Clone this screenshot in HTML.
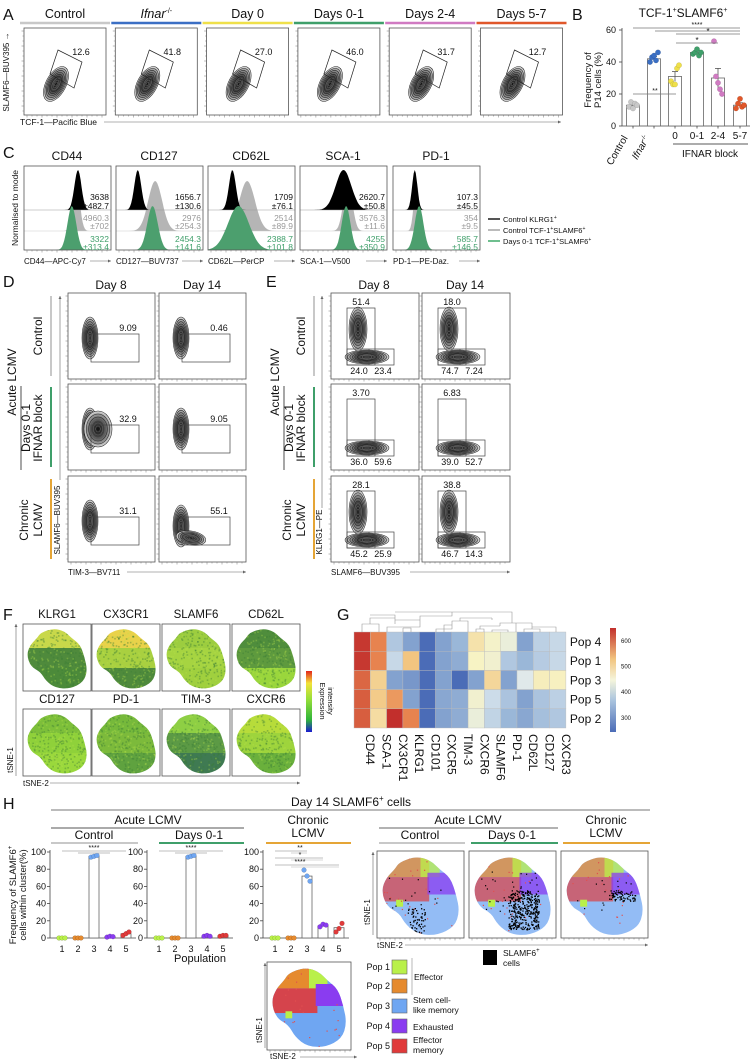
<!DOCTYPE html>
<html><head><meta charset="utf-8"><title>Figure</title>
<style>html,body{margin:0;padding:0;background:#fff}svg{display:block}text{font-family:"Liberation Sans",sans-serif;fill:#111}</style>
</head><body>
<svg id="fig" xmlns="http://www.w3.org/2000/svg" width="751" height="1060" viewBox="0 0 751 1060">
<defs>
<linearGradient id="cbarF" x1="0" y1="1" x2="0" y2="0"><stop offset="0" stop-color="#1a1ad0"/><stop offset="0.2" stop-color="#2fb43a"/><stop offset="0.55" stop-color="#9be03a"/><stop offset="0.8" stop-color="#f3e23a"/><stop offset="1" stop-color="#e3261c"/></linearGradient>
<linearGradient id="cbarG" x1="0" y1="1" x2="0" y2="0"><stop offset="0" stop-color="#4b6cb7"/><stop offset="0.3" stop-color="#a9c3de"/><stop offset="0.5" stop-color="#f5f5dc"/><stop offset="0.7" stop-color="#f2c580"/><stop offset="1" stop-color="#c22f2c"/></linearGradient>
<radialGradient id="contourFill"><stop offset="0" stop-color="#111"/><stop offset="0.45" stop-color="#444"/><stop offset="0.8" stop-color="#999"/><stop offset="1" stop-color="#e0e0e0"/></radialGradient>
</defs>
</svg>
<script>
// ---------- data ----------
const aConditions = ['Control','Ifnar','Day 0','Days 0-1','Days 2-4','Days 5-7'];
const aGateValues = ['12.6','41.8','27.0','46.0','31.7','12.7'];
const bCategories = ['Control','Ifnar','0','0-1','2-4','5-7'];
const bMeans = [13, 42, 31, 46, 30, 13];
const bErr = [1.5, 1.5, 3, 1, 6, 1.5];
const bPoints = [[12,15,11,14,13],[40,43,44,41,46],[28,26,26,36,38],[45,46,48,44,46],[53,31,27,23,20],[11,14,17,12,13]];
const bTicks = [0,20,40,60];
const cMarkers = ['CD44','CD127','CD62L','SCA-1','PD-1'];
const cAxisLabels = ['CD44—APC-Cy7','CD127—BUV737','CD62L—PerCP','SCA-1—V500','PD-1—PE-Daz.'];
const cPeakBlack = [0.62,0.25,0.28,0.50,0.25];
const cPeakGray = [0.60,0.45,0.45,0.55,0.27];
const cPeakGreen = [0.55,0.42,0.35,0.53,0.30];
const cSdBlack = [0.04,0.04,0.04,0.09,0.03];
const cSdGray = [0.04,0.08,0.09,0.05,0.03];
const cSdGreen = [0.05,0.06,0.12,0.05,0.05];
const cMfiBlack = [['3638','±482.7'],['1656.7','±130.6'],['1709','±76.1'],['2620.7','±50.8'],['107.3','±45.5']];
const cMfiGray = [['4960.3','±702'],['2976','±254.3'],['2514','±89.9'],['3576.3','±11.6'],['354','±9.5']];
const cMfiGreen = [['3322','±313.4'],['2454.3','±141.6'],['2388.7','±101.8'],['4255','±350.9'],['585.7','±146.5']];
const dValues = [['9.09','0.46'],['32.9','9.05'],['31.1','55.1']];
const eTop = [['51.4','18.0'],['3.70','6.83'],['28.1','38.8']];
const eBottomL = [['24.0','74.7'],['36.0','39.0'],['45.2','46.7']];
const eBottomR = [['23.4','7.24'],['59.6','52.7'],['25.9','14.3']];
const fMarkers = ['KLRG1','CX3CR1','SLAMF6','CD62L','CD127','PD-1','TIM-3','CXCR6'];
const gRows = ['Pop 4','Pop 1','Pop 3','Pop 5','Pop 2'];
const gCols = ['CD44','SCA-1','CX3CR1','KLRG1','CD101','CXCR5','TIM-3','CXCR6','SLAMF6','PD-1','CD62L','CD127','CXCR3'];
const gValues = [
 [640,560,340,300,240,300,320,450,415,400,300,350,360],
 [640,560,360,500,240,300,310,420,410,340,320,345,360],
 [590,480,300,290,230,300,250,300,470,300,385,430,425],
 [600,490,540,300,240,305,310,410,365,335,300,335,350],
 [600,460,650,560,240,300,310,400,355,320,305,330,340]];
const gTicks = [600,500,400,300];
const hPops = ['1','2','3','4','5'];
const hMeansControl = [0,0,95,1.5,5];
const hMeansDays01 = [0,0,95,2,2.5];
const hMeansChronic = [0,0,72,14,12];
const hPtsControl = [[0,0,0],[0,0,0],[94,95,96],[1,2,1.5],[3,5,7]];
const hPtsDays01 = [[0,0,0],[0,0,0],[94,95,96],[2,3,2],[2,3,3]];
const hPtsChronic = [[0,0,0],[0,0,0],[79,72,66],[13,16,15],[7,11,17]];
const hTicks = [0,20,40,60,80,100];

// ---------- helpers ----------
const NS='http://www.w3.org/2000/svg';
const svg=document.getElementById('fig');
function mk(tag,attrs,name,parent){
 const e=document.createElementNS(NS,tag);
 for(const k in attrs) e.setAttribute(k,attrs[k]);
 
 
 (parent||svg).appendChild(e);
 return e;
}
function T(x,y,s,size,name,extra){
 const e=mk('text',Object.assign({x:x,y:y,'font-size':size,'text-anchor':'middle'},extra||{}),name);
 e.innerHTML=s; return e;
}
function L(x1,y1,x2,y2,stroke,w,name){return mk('line',{x1:x1,y1:y1,x2:x2,y2:y2,stroke:stroke,'stroke-width':w},name);}
function R(x,y,w,h,name,extra){return mk('rect',Object.assign({x:x,y:y,width:w,height:h,fill:'none',stroke:'#555','stroke-width':0.8},extra||{}),name);}
let seed=7; function rnd(){seed=(seed*16807)%2147483647;return seed/2147483647;}
function ticksBottom(x,y,w,name){let d='';for(let t=3;t<w;t+=5){d+=`M${x+t},${y}v${(t%15<5)?2.5:1.5}`;}mk('path',{d:d,stroke:'#777','stroke-width':0.5},name);}
function ticksLeft(x,y,h,name){let d='';for(let t=3;t<h;t+=5){d+=`M${x},${y+t}h${(t%15<5)?-2.5:-1.5}`;}mk('path',{d:d,stroke:'#777','stroke-width':0.5},name);}
function contour(cx,cy,rx,ry,rot,n,name){
 const g=mk('g',{transform:`rotate(${rot} ${cx} ${cy})`},name);
 mk('ellipse',{cx:cx,cy:cy,rx:rx,ry:ry,fill:'url(#contourFill)',stroke:'none'},name+'-fill',g);
 for(let k=n;k>=1;k--){mk('ellipse',{cx:cx,cy:cy,rx:rx*k/n,ry:ry*k/n,fill:'none',stroke:k<4?'#666':'#222','stroke-width':0.55},name+'-level',g);}
 return g;
}
function arrowX(x1,x2,y,name){L(x1,y,x2,y,'#666',0.6,name);mk('path',{d:`M${x2},${y}l-3,-1.5v3z`,fill:'#666'},name+'-head');}
function arrowY(x,y1,y2,name){L(x,y1,x,y2,'#666',0.6,name);mk('path',{d:`M${x},${y2}l-1.5,3h3z`,fill:'#666'},name+'-head');}

// ---------- Panel A ----------
const aColors=['#c8c8c8','#3b6fc4','#efe04a','#3f9f6a','#d07ac2','#e0572a'];
T(3,20,'A',16,'panel-a-label',{'text-anchor':'start'});
aConditions.forEach((c,i)=>{
 const x0=24+i*91.3;
 L(x0-4,23,x0+86,23,aColors[i],2.5,'condition-color-bar');
 T(x0+41,18,i===1?'<tspan font-style="italic">Ifnar</tspan><tspan font-size="7" dy="-5">-/-</tspan>':c,12.5,'condition-header');
 R(x0,28,82,87,'flow-plot-box');
 contour(x0+32,28+56,19,10,-62,9,'contour-blob');
 mk('polygon',{points:`${x0+34},${50} ${x0+58},${62} ${x0+50},${88} ${x0+26},${74}`,fill:'none',stroke:'#222','stroke-width':0.7},'gate-polygon');
 T(x0+57,55,aGateValues[i],9,'gate-value');
 ticksBottom(x0,115,82,'x-ticks');ticksLeft(x0,28,87,'y-ticks');
});
T(9,72,'SLAMF6—BUV395 →',8,'a-y-axis-title',{transform:'rotate(-90 9 72)'});
T(20,125,'TCF-1—Pacific Blue',8.5,'a-x-axis-title',{'text-anchor':'start'});
arrowX(104,561,122,'a-x-arrow');

// ---------- Panel B ----------
T(572,20,'B',16,'panel-b-label',{'text-anchor':'start'});
T(683,17,'TCF-1<tspan font-size="7" dy="-5">+</tspan><tspan dy="5">SLAMF6</tspan><tspan font-size="7" dy="-5">+</tspan>',12,'b-title');
const yB=v=>126-v*(96/60);
const bX=[633,654,675,697,718,740];
L(622,28,622,126,'#444',0.8,'b-y-axis');L(622,126,750,126,'#444',0.8,'b-x-axis');
bTicks.forEach(v=>{L(619,yB(v),622,yB(v),'#444',0.8,'b-y-tick');T(616,yB(v)+3,String(v),9,'b-y-tick-label',{'text-anchor':'end'});});
bCategories.forEach((c,i)=>{
 const x=bX[i];
 mk('rect',{x:x-6.5,y:yB(bMeans[i]),width:13,height:126-yB(bMeans[i]),fill:'#fff',stroke:'#666','stroke-width':0.8},'bar-'+c);
 L(x,yB(bMeans[i]-bErr[i]),x,yB(bMeans[i]+bErr[i]),'#555',0.8,'error-bar');
 L(x-3,yB(bMeans[i]+bErr[i]),x+3,yB(bMeans[i]+bErr[i]),'#555',0.8,'error-cap');
 bPoints[i].forEach((p,j)=>{mk('circle',{cx:x-4+j*2,cy:yB(p),r:2.7,fill:aColors[i],stroke:'#0003','stroke-width':0.4},'data-point');});
 L(x,126,x,128.5,'#444',0.8,'b-x-tick');
});
T(628,138,'Control',10,'b-x-label',{'text-anchor':'end',transform:'rotate(-60 628 138)'});
T(650,138,'<tspan font-style="italic">Ifnar</tspan><tspan font-size="6" dy="-4">-/-</tspan>',10,'b-x-label',{'text-anchor':'end',transform:'rotate(-60 650 138)'});
['0','0-1','2-4','5-7'].forEach((s,i)=>T(bX[i+2],139,s,10,'b-x-label'));
L(673,144,748,144,'#222',0.8,'ifnar-block-line');T(710,157,'IFNAR block',10,'ifnar-block-label');
T(591,80,'Frequency of',9.5,'b-y-title',{transform:'rotate(-90 591 80)'});
T(601,80,'P14 cells (%)',9.5,'b-y-title',{transform:'rotate(-90 601 80)'});
[[633,740,28],[655,740,31],[676,740,34],[676,718,43]].forEach(s=>L(s[0],s[2],s[1],s[2],'#777',0.7,'significance-line'));
T(697,27,'****',7,'significance-stars');T(708,34,'*',8,'significance-stars');T(697,43,'*',8,'significance-stars');
L(633,94,676,94,'#777',0.7,'significance-line');T(655,93,'**',7,'significance-stars');

// ---------- Panel C ----------
T(3,158,'C',16,'panel-c-label',{'text-anchor':'start'});
const cX=[24,116,208,300,393];
function hist(x0,w,base,h,m,sd,fill,name){
 let d=`M${x0},${base}`;
 for(let k=0;k<=80;k++){const t=k/80;d+=`L${(x0+t*w).toFixed(1)},${(base-h*Math.exp(-0.5*((t-m)/sd)**2)).toFixed(1)}`;}
 d+=`L${x0+w},${base}Z`;mk('path',{d:d,fill:fill,stroke:'none'},name);
}
cMarkers.forEach((m,i)=>{
 const x0=cX[i],w=87;
 T(x0+43,160,m,12,'marker-title');
 hist(x0,w,231,50,cPeakGray[i],cSdGray[i],'#b5b5b5','histogram-control-tcf1');
 hist(x0,w,210,40,cPeakBlack[i],cSdBlack[i],'#000','histogram-control-klrg1');
 L(x0,210,x0+w,210,'#999',0.6,'row-divider');L(x0,231,x0+w,231,'#ccc',0.6,'row-divider');
 hist(x0,w,250,44,cPeakGreen[i],cSdGreen[i],'#4c9f6e','histogram-days01');
 R(x0,166,w,84,'histogram-box');
 T(x0+w-2,200,cMfiBlack[i][0],8.5,'mfi-value',{'text-anchor':'end'});T(x0+w-2,209,cMfiBlack[i][1],8.5,'mfi-sem',{'text-anchor':'end'});
 T(x0+w-2,221,cMfiGray[i][0],8.5,'mfi-value',{'text-anchor':'end',style:'fill:#999'});T(x0+w-2,229,cMfiGray[i][1],8.5,'mfi-sem',{'text-anchor':'end',style:'fill:#999'});
 T(x0+w-2,242,cMfiGreen[i][0],8.5,'mfi-value',{'text-anchor':'end',style:'fill:#3f9f6a'});T(x0+w-2,250,cMfiGreen[i][1],8.5,'mfi-sem',{'text-anchor':'end',style:'fill:#3f9f6a'});
 ticksBottom(x0,250,w,'x-ticks');
 T(x0,264,cAxisLabels[i],8,'c-x-axis-title',{'text-anchor':'start'});
 arrowX(x0+66,x0+w,261,'c-x-arrow');
});
T(18,208,'Normalised to mode',8.5,'c-y-axis-title',{transform:'rotate(-90 18 208)'});
[['#555','Control KLRG1<tspan font-size="5" dy="-3">+</tspan>',222],['#bbb','Control TCF-1<tspan font-size="5" dy="-3">+</tspan><tspan dy="3">SLAMF6</tspan><tspan font-size="5" dy="-3">+</tspan>',233],['#6fbf8f','Days 0-1 TCF-1<tspan font-size="5" dy="-3">+</tspan><tspan dy="3">SLAMF6</tspan><tspan font-size="5" dy="-3">+</tspan>',244]].forEach(l=>{
 L(488,l[2]-3,500,l[2]-3,l[0],2,'legend-swatch');T(503,l[2],l[1],7.5,'legend-entry',{'text-anchor':'start'});
});

// ---------- Panels D & E ----------
T(3,287,'D',16,'panel-d-label',{'text-anchor':'start'});
T(266,287,'E',16,'panel-e-label',{'text-anchor':'start'});
const rowTops=[293,384,476];
const dCols=[68,159], eCols=[331,422];
['Day 8','Day 14'].forEach((d,j)=>{T(dCols[j]+43,289,d,12,'day-header');T(eCols[j]+43,289,d,12,'day-header');});
const rowColors=['#c8c8c8','#3f9f6a','#e5a536'];
function rowLabels(ox){
 T(ox+42,336,'Control',12,'row-label',{transform:`rotate(-90 ${ox+42} 336)`});
 T(ox+30,428,'Days 0-1',12,'row-label',{transform:`rotate(-90 ${ox+30} 428)`});
 T(ox+42,428,'IFNAR block',12,'row-label',{transform:`rotate(-90 ${ox+42} 428)`});
 T(ox+16,382,'Acute LCMV',12,'row-label',{transform:`rotate(-90 ${ox+16} 382)`});
 L(ox+21,386,ox+21,470,'#222',0.8,'group-bracket');
 T(ox+28,520,'Chronic',12,'row-label',{transform:`rotate(-90 ${ox+28} 520)`});
 T(ox+42,520,'LCMV',12,'row-label',{transform:`rotate(-90 ${ox+42} 520)`});
 rowTops.forEach((t,r)=>L(ox+51,t+3,ox+51,t+83,rowColors[r],2,'row-color-bar'));
}
rowLabels(0);rowLabels(263);
rowTops.forEach((t,r)=>{
 [0,1].forEach(j=>{
  let x0=dCols[j];R(x0,t,87,86,'flow-plot-box');
  contour(x0+22,t+(r===2&&j===1?50:45),8,21,0,9,'contour-blob');
  if(r===2&&j===1) contour(x0+32,t+62,15,7,10,7,'contour-blob');
  if(r===1&&j===0) contour(x0+30,t+45,14,18,0,6,'contour-blob');
  mk('rect',{x:x0+23,y:t+41,width:48,height:28,fill:'none',stroke:'#444','stroke-width':0.7},'gate-tim3');
  T(x0+60,t+38,dValues[r][j],9,'gate-value');
  ticksBottom(x0,t+86,87,'x-ticks');ticksLeft(x0,t,86,'y-ticks');
  x0=eCols[j];R(x0,t,88,86,'flow-plot-box');
  contour(x0+36,t+64,22,7,0,9,'contour-blob');
  if(r!==1) contour(x0+27,t+36,9,22,0,8,'contour-blob');
  mk('rect',{x:x0+16,y:t+15,width:28,height:57,fill:'none',stroke:'#444','stroke-width':0.7},'gate-klrg1');
  mk('rect',{x:x0+16,y:t+56,width:47,height:16,fill:'none',stroke:'#444','stroke-width':0.7},'gate-slamf6');
  L(x0+38,t+56,x0+38,t+72,'#444',0.7,'gate-split');
  T(x0+30,t+12,eTop[r][j],9,'gate-value');
  T(x0+28,t+81,eBottomL[r][j],9,'gate-value');T(x0+52,t+81,eBottomR[r][j],9,'gate-value');
  ticksBottom(x0,t+86,88,'x-ticks');ticksLeft(x0,t,86,'y-ticks');
 });
});
T(68,575,'TIM-3—BV711',8,'d-x-axis-title',{'text-anchor':'start'});arrowX(127,246,572,'d-x-arrow');
T(331,575,'SLAMF6—BUV395',8,'e-x-axis-title',{'text-anchor':'start'});arrowX(410,510,572,'e-x-arrow');
T(60,520,'SLAMF6—BUV395',8,'d-y-axis-title',{transform:'rotate(-90 60 520)'});arrowY(60,480,296,'d-y-arrow');
T(322,532,'KLRG1—PE',8,'e-y-axis-title',{transform:'rotate(-90 322 532)'});arrowY(322,508,296,'e-y-arrow');

// ---------- tSNE blob ----------
const blobPts=[[.25,.12],[.45,.05],[.62,.1],[.72,.2],[.85,.3],[.92,.5],[.96,.7],[.9,.88],[.7,.98],[.48,.97],[.33,.86],[.25,.72],[.1,.64],[.04,.45],[.1,.3],[.2,.2]];
let clipN=0;
function blobClip(x,y,w,h){
 const id='clip'+(clipN++);
 const defs=svg.querySelector('defs');
 const cp=mk('clipPath',{id:id},'tsne-clip',defs);
 const P=blobPts.map(p=>[x+p[0]*w,y+p[1]*h]);
 const n=P.length;
 const mid=(a,b)=>[(a[0]+b[0])/2,(a[1]+b[1])/2];
 let m0=mid(P[n-1],P[0]);
 let d=`M${m0[0].toFixed(1)},${m0[1].toFixed(1)}`;
 for(let k=0;k<n;k++){const m=mid(P[k],P[(k+1)%n]);d+=`Q${P[k][0].toFixed(1)},${P[k][1].toFixed(1)} ${m[0].toFixed(1)},${m[1].toFixed(1)}`;}
 mk('path',{d:d+'Z'},'tsne-outline',cp);
 return mk('g',{'clip-path':`url(#${id})`},'tsne-map');
}
function speckle(g,x,y,w,h,color,n,rr){for(let k=0;k<n;k++){mk('rect',{x:(x+rnd()*w).toFixed(1),y:(y+rnd()*h).toFixed(1),width:rr,height:rr,fill:color},'tsne-speckle',g);}}

// ---------- Panel F ----------
T(3,620,'F',16,'panel-f-label',{'text-anchor':'start'});
const fTop=['#c9d84a','#e9d24a','#9ccd3f','#4f8d3c','#7dbf3a','#76b93b','#8ecf44','#b7dc3a'];
const fMid=['#4f8a3c','#a9d040','#a6d441','#5e9a3e','#8fd13a','#7cba3b','#5c9a45','#9ed43c'];
const fBot=['#4c8a3a','#4f8a3c','#a0d03e','#9ad63c','#9ad83c','#5fa23f','#3f7a52','#6ab03c'];
fMarkers.forEach((m,i)=>{
 const col=i%4,row=Math.floor(i/4);
 const x=[23,92,162,232][col], y=[624,709][row];
 T(x+34,y-6,m,11.5,'tsne-marker-title');
 R(x,y,68,67,'tsne-box');
 const g=blobClip(x+1,y+1,66,65);
 mk('rect',{x:x,y:y,width:68,height:24,fill:fTop[i]},'expression-region',g);
 mk('rect',{x:x,y:y+24,width:68,height:20,fill:fMid[i]},'expression-region',g);
 mk('rect',{x:x,y:y+44,width:68,height:23,fill:fBot[i]},'expression-region',g);
 speckle(g,x,y,68,67,'#3c7d3866',300,1.6);
 speckle(g,x,y,68,67,'#b8e04a55',200,1.6);
});
mk('rect',{x:306,y:671,width:6,height:61,fill:'url(#cbarF)'},'f-colorbar');
T(320,701,'Expression',7.5,'f-colorbar-title',{transform:'rotate(90 320 701)'});
T(328,701,'intensity',7.5,'f-colorbar-title',{transform:'rotate(90 328 701)'});
T(13,760,'tSNE-1',8,'f-y-axis-title',{transform:'rotate(-90 13 760)'});arrowY(16,776,624,'f-y-arrow');
T(23,786,'tSNE-2',8,'f-x-axis-title',{'text-anchor':'start'});arrowX(50,300,783,'f-x-arrow');

// ---------- Panel G ----------
T(337,620,'G',16,'panel-g-label',{'text-anchor':'start'});
const stops=[[250,[75,108,183]],[320,[154,183,216]],[380,[221,232,239]],[420,[247,243,196]],[500,[242,197,128]],[560,[231,131,79]],[650,[194,47,44]]];
function heat(v){for(let k=1;k<stops.length;k++){if(v<=stops[k][0]||k===stops.length-1){const a=stops[k-1],b=stops[k];const t=Math.max(0,Math.min(1,(v-a[0])/(b[0]-a[0])));return 'rgb('+a[1].map((c,j)=>Math.round(c+(b[1][j]-c)*t)).join(',')+')';}}}
const gx0=354,gw=16.3,gy0=632,gh=19.2;
gValues.forEach((row,r)=>row.forEach((v,c)=>{mk('rect',{x:gx0+c*gw,y:gy0+r*gh,width:gw,height:gh,fill:heat(v),stroke:'#bbb','stroke-width':0.4},'heatmap-cell');}));
gRows.forEach((p,r)=>T(gx0+13*gw+4,gy0+r*gh+14,p,12,'heatmap-row-label',{'text-anchor':'start'}));
gCols.forEach((c,k)=>{const cx=gx0+k*gw+gw/2+4;T(cx,734,c,12,'heatmap-col-label',{'text-anchor':'start',transform:`rotate(90 ${cx} 734)`});});
const dd='M362,632V624H379V632 M370,624V618H395V624 M395,618V615H370 M387,632V627H420V620H395 M403,632V628 M411,632V628H403 M420,620V616H452V612H395 M436,632V629H452V625H444V632 M452,625V621H468V632 M460,621V618H492 M476,632V629H484V632 M480,629V626H500 M492,632V630H508V632 M500,626V623H516V632 M524,632V629H540V632 M532,629V627H556V632 M516,623H532V627 M492,618V620 M452,612H512V623';
mk('path',{d:dd,fill:'none',stroke:'#999','stroke-width':0.6},'dendrogram');
mk('rect',{x:610,y:628,width:6,height:104,fill:'url(#cbarG)'},'g-colorbar');
gTicks.forEach(v=>{const y=732-(v-245)/(650-245)*104;T(621,y+2,String(v),6,'g-colorbar-tick',{'text-anchor':'start'});});

// ---------- Panel H ----------
T(3,809,'H',16,'panel-h-label',{'text-anchor':'start'});
T(351,806,'Day 14 SLAMF6<tspan font-size="8" dy="-5">+</tspan><tspan dy="5"> cells</tspan>',12,'h-title');
L(51,810,650,810,'#777',1,'h-title-line');
T(148,824,'Acute LCMV',12,'group-label');L(51,828,244,828,'#555',1,'group-line');
T(94,839,'Control',12,'group-label');T(199,839,'Days 0-1',12,'group-label');
T(308,824,'Chronic',12,'group-label');T(308,837,'LCMV',12,'group-label');
L(51,843,138,843,'#c8c8c8',2,'control-color-bar');L(159,843,244,843,'#3f9f6a',2,'days01-color-bar');L(266,843,351,843,'#e5a536',2,'chronic-color-bar');
T(468,824,'Acute LCMV',12,'group-label');L(379,828,558,828,'#999',1.5,'group-line');
T(420,839,'Control',12,'group-label');T(512,839,'Days 0-1',12,'group-label');
T(606,824,'Chronic',12,'group-label');T(606,837,'LCMV',12,'group-label');
L(379,843,465,843,'#c8c8c8',2,'control-color-bar');L(471,843,558,843,'#3f9f6a',2,'days01-color-bar');L(563,843,650,843,'#e5a536',2,'chronic-color-bar');
const popColors=['#b9f04a','#e58a2e','#6fa6f2','#8a3cf0','#e03a3a'];
const yH=v=>938-v*0.86;
function hChart(ax,means,pts,name){
 L(ax,850,ax,938,'#444',0.8,name+'-y-axis');L(ax,938,ax+86,938,'#444',0.8,name+'-x-axis');
 hTicks.forEach(v=>{L(ax-3,yH(v),ax,yH(v),'#444',0.8,'y-tick');T(ax-4,yH(v)+3,String(v),9,'y-tick-label',{'text-anchor':'end'});});
 hPops.forEach((p,i)=>{
  const x=ax+12+i*16;
  if(means[i]>0.5) mk('rect',{x:x-5,y:yH(means[i]),width:10,height:938-yH(means[i]),fill:'#fff',stroke:'#666','stroke-width':0.8},'bar-pop'+p);
  pts[i].forEach((v,j)=>mk('circle',{cx:x-3+j*3,cy:yH(v),r:2.4,fill:popColors[i],stroke:'#0004','stroke-width':0.4},'data-point'));
  T(x,952,p,9,'x-tick-label');
 });
}
hChart(50,hMeansControl,hPtsControl,'control-chart');
hChart(147,hMeansDays01,hPtsDays01,'days01-chart');
hChart(263,hMeansChronic,hPtsChronic,'chronic-chart');
[[50,851,112,853],[147,851,209,853]].forEach(a=>{L(a[0]+12,a[1],a[0]+76,a[1],'#aaa',0.8,'significance-line');L(a[0]+28,a[3],a[0]+60,a[3],'#aaa',0.8,'significance-line');T(a[0]+44,850,'****',7,'significance-stars');});
[[851,'**',307],[858,'*',323],[865,'****',339]].forEach(s=>{L(275,s[0],s[2],s[0],'#aaa',0.8,'significance-line');L(291,s[0]+2,s[2],s[0]+2,'#ccc',0.8,'significance-line');T(300,s[0]-1,s[1],7,'significance-stars');});
T(200,962,'Population',11,'h-x-axis-title');
T(16,895,'Frequency of SLAMF6<tspan font-size="6" dy="-4">+</tspan>',9.5,'h-y-axis-title',{transform:'rotate(-90 16 895)'});
T(26,895,'cells within cluster(%)',9.5,'h-y-axis-title',{transform:'rotate(-90 26 895)'});
function popMap(x,y,w,h,pale,name){
 R(x,y,w,h,name+'-box');
 const g=blobClip(x+1,y+1,w-2,h-2);
 const op=pale?0.75:1;
 mk('rect',{x:x,y:y,width:w,height:h,fill:popColors[2],opacity:op},'pop3-region',g);
 mk('rect',{x:x,y:y,width:w*0.6,height:h*0.3,fill:popColors[1],opacity:op},'pop2-region',g);
 mk('rect',{x:x+w*0.5,y:y,width:w*0.22,height:h*0.3,fill:popColors[0],opacity:op},'pop1-region',g);
 mk('rect',{x:x,y:y+h*0.3,width:w*0.6,height:h*0.28,fill:popColors[4],opacity:op*0.9},'pop5-region',g);
 mk('rect',{x:x+w*0.58,y:y+h*0.25,width:w*0.35,height:h*0.25,fill:popColors[3],opacity:op},'pop4-region',g);
 mk('rect',{x:x+w*0.22,y:y+h*0.56,width:w*0.08,height:h*0.08,fill:popColors[0]},'pop1-small-region',g);
 speckle(g,x,y,w,h,'#e05050',40,1.2);
 ticksBottom(x,y+h,w,'x-ticks');
 return g;
}
const hm=[[377,'control'],[469,'days01'],[561,'chronic']];
hm.forEach((m,i)=>{
 const g=popMap(m[0],851,87,87,true,'tsne-'+m[1]);
 const regions=[[0.35,0.65,0.2,0.3,60],[0.45,0.45,0.35,0.45,350],[0.55,0.45,0.3,0.12,70]];
 const rg=regions[i];
 speckle(g,m[0]+rg[0]*87,851+rg[1]*87,rg[2]*87,rg[3]*87,'#000',rg[4],1.3);
 speckle(g,m[0]+10,851+20,60,40,'#000',i===1?40:15,1.2);
});
T(370,912,'tSNE-1',8,'h-y-axis-title',{transform:'rotate(-90 370 912)'});arrowY(373,935,852,'h-y-arrow');
T(377,948,'tSNE-2',8,'h-x-axis-title',{'text-anchor':'start'});arrowX(405,648,945,'h-x-arrow');
mk('rect',{x:483,y:950,width:14,height:15,fill:'#000'},'slamf6-legend-swatch');
T(503,956,'SLAMF6<tspan font-size="6" dy="-4">+</tspan>',8.5,'slamf6-legend-label',{'text-anchor':'start'});T(503,966,'cells',8.5,'slamf6-legend-label',{'text-anchor':'start'});
popMap(267,962,84,88,false,'tsne-combined');
T(262,1030,'tSNE-1',8,'tsne-y-title',{transform:'rotate(-90 262 1030)'});arrowY(265,1048,963,'tsne-y-arrow');
T(270,1059,'tSNE-2',8,'tsne-x-title',{'text-anchor':'start'});arrowX(300,357,1057,'tsne-x-arrow');
const popY=[967,986,1006,1026,1046];
popY.forEach((y,i)=>{T(390,y+3,'Pop '+(i+1),9,'pop-legend-label',{'text-anchor':'end'});mk('rect',{x:392,y:y-7,width:15,height:14,fill:popColors[i],stroke:'#666','stroke-width':0.6},'pop-legend-swatch');});
L(412,958,412,995,'#888',0.6,'effector-bracket');
T(414,980,'Effector',8.5,'pop-description',{'text-anchor':'start'});
T(413,1003,'Stem cell-',8.5,'pop-description',{'text-anchor':'start'});T(413,1013,'like memory',8.5,'pop-description',{'text-anchor':'start'});
T(413,1030,'Exhausted',8.5,'pop-description',{'text-anchor':'start'});
T(413,1043,'Effector',8.5,'pop-description',{'text-anchor':'start'});T(413,1053,'memory',8.5,'pop-description',{'text-anchor':'start'});
</script>
</body></html>
